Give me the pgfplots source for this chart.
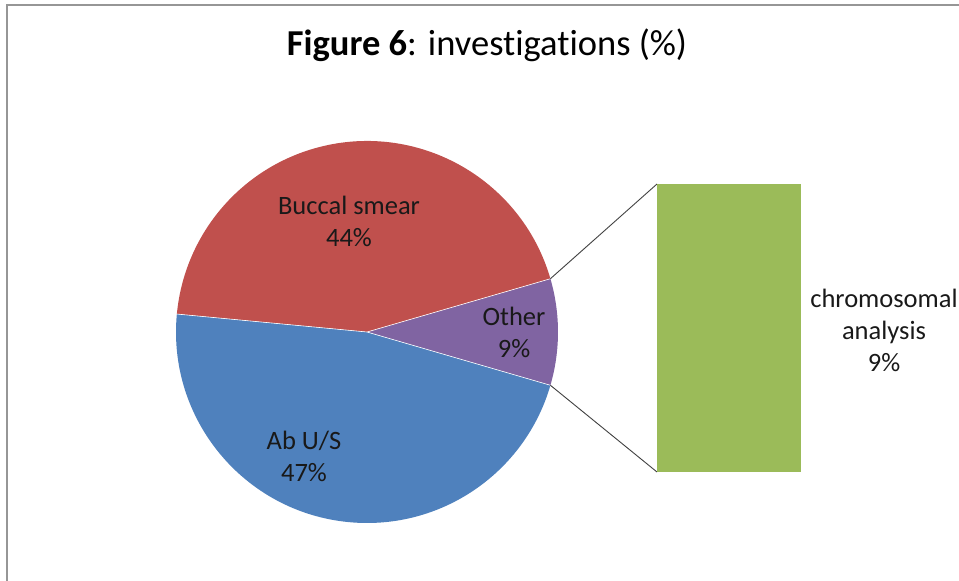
\documentclass[border=0pt]{standalone}
\usepackage{pgfplots}
\pgfplotsset{compat=1.18}
\usetikzlibrary{calc}
\usepackage{fontspec}
\setmainfont{Carlito}[Ligatures=NoCommon]
\definecolor{abus}{RGB}{79,129,189}
\definecolor{buccal}{RGB}{192,80,77}
\definecolor{other}{RGB}{128,100,162}
\definecolor{chromo}{RGB}{155,187,89}
\definecolor{frame}{RGB}{150,150,150}

% slice values (%)
\def\vAb{47}
\def\vBuccal{44}
\def\vOther{9}

\begin{document}
\begin{tikzpicture}
\pgfmathsetmacro{\aA}{-\vOther*3.6/2}
\pgfmathsetmacro{\aB}{\aA+\vOther*3.6}
\pgfmathsetmacro{\aC}{\aB+\vBuccal*3.6}
\pgfmathsetmacro{\aD}{\aC+\vAb*3.6}
\begin{axis}[
    x=1pt, y=1pt, y dir=reverse,
    xmin=0, xmax=959, ymin=0, ymax=581,
    hide axis, clip=false, scale only axis,
    anchor=south west, at={(0,0)},
    ]
    % chart frame
    \draw[frame, line width=2.5pt] (axis cs:7,5) rectangle (axis cs:990,620);
    \def\R{191pt}
    \coordinate (c) at (axis cs:367,332);
    \fill[other] (c) -- ++(\aA:\R) arc[start angle=\aA, end angle=\aB, radius=\R] -- cycle;
    \fill[buccal] (c) -- ++(\aB:\R) arc[start angle=\aB, end angle=\aC, radius=\R] -- cycle;
    \fill[abus] (c) -- ++(\aC:\R) arc[start angle=\aC, end angle=\aD, radius=\R] -- cycle;
    \draw[white, line width=0.6pt] (c) -- ++(\aA:\R) (c) -- ++(\aB:\R) (c) -- ++(\aC:\R);
    % connectors
    \draw[black!75, line width=0.9pt] ($(c)+(\aB:\R)$) -- (axis cs:657,184);
    \draw[black!75, line width=0.9pt] ($(c)+(\aA:\R)$) -- (axis cs:657,472);
    % labels
    \begin{scope}[every node/.style={align=center, font=\fontsize{26.5}{32}\selectfont, text=black!90}]
    \node at (axis cs:349,221) {Buccal smear\\44\%};
    \node at (axis cs:514,332) {Other\\9\%};
    \node at (axis cs:304,456) {Ab U/S\\47\%};
    \node at (axis cs:884,330) {chromosomal\\analysis\\9\%};
    \end{scope}
    \node[anchor=base, font=\fontsize{36.5}{40}\selectfont, text=black] at (axis cs:487,55)
        {\textbf{Figure 6}: investigations (\%)};
\end{axis}
% bar for the "Other" breakdown
\begin{axis}[
    anchor=south west, at={(657pt,109pt)},
    width=144pt, height=288pt, scale only axis,
    hide axis, ymin=0, ymax=9, xmin=-0.5, xmax=0.5,
    ybar, bar width=144pt, enlargelimits=false,
    ]
    \addplot[fill=chromo, draw=none] coordinates {(0,9)};
\end{axis}
\pgfresetboundingbox
\path[use as bounding box] (0,0) rectangle (959pt,581pt);
\end{tikzpicture}
\end{document}
